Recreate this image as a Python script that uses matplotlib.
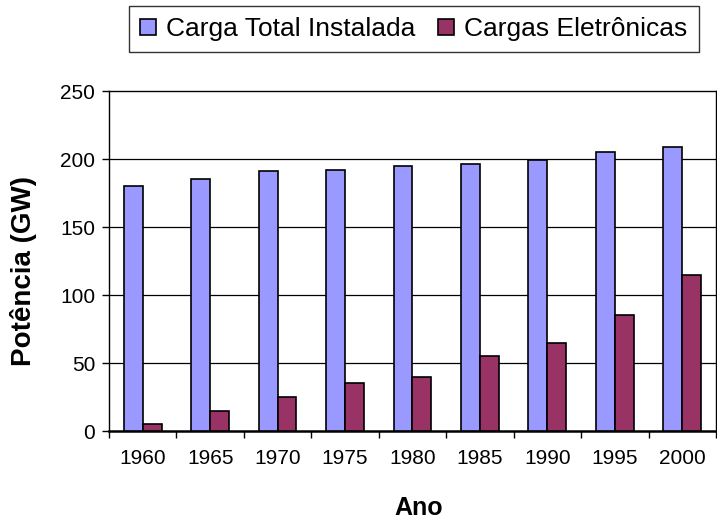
import matplotlib.pyplot as plt
import numpy as np

plt.rcParams['font.family'] = ['Liberation Sans', 'DejaVu Sans']

anos = ['1960', '1965', '1970', '1975', '1980', '1985', '1990', '1995', '2000']
carga_total = [180, 185, 191, 192, 195, 196, 199, 205, 209]
cargas_eletronicas = [5, 15, 25, 35, 40, 55, 65, 85, 115]

fig = plt.figure(figsize=(7.17, 5.22), dpi=100)
ax = fig.add_axes([0.152, 0.1743, 0.8466, 0.6513])

x = np.arange(len(anos))
w = 0.28
ax.bar(x - w/2, carga_total, w, color='#9999FF', edgecolor='black', linewidth=1.2,
       label='Carga Total Instalada', zorder=3)
ax.bar(x + w/2, cargas_eletronicas, w, color='#993366', edgecolor='black', linewidth=1.2,
       label='Cargas Eletrônicas', zorder=3)

ax.set_xlim(-0.5, len(anos) - 0.5)
ax.set_ylim(0, 250)
ax.set_yticks(range(0, 251, 50))
for v in range(50, 250, 50):
    ax.axhline(v, color='black', linewidth=0.9, zorder=1)

# ticks nas divisas entre grupos, rótulos no centro
ax.set_xticks(np.arange(-0.5, len(anos), 1.0))
ax.set_xticklabels([])
ax.set_xticks(x, minor=True)
ax.set_xticklabels(anos, minor=True)
ax.tick_params(axis='x', which='major', length=5, width=1, direction='out')
ax.tick_params(axis='x', which='minor', length=0, pad=13, labelsize=15)
ax.tick_params(axis='y', length=5, width=1, direction='out', labelsize=15, pad=5)

for s in ax.spines.values():
    s.set_linewidth(1)
ax.spines['bottom'].set_linewidth(1.8)

fig.text(24/717, 1 - 271/522, 'Potência (GW)', rotation=90, ha='center', va='center',
         fontsize=20, fontweight='bold')
fig.text(419/717, 1 - 508/522, 'Ano', ha='center', va='center',
         fontsize=18, fontweight='bold')

leg = fig.legend(loc='upper center', bbox_to_anchor=(0.577, 0.988), ncol=2,
                 fontsize=19, frameon=True, fancybox=False, edgecolor='black',
                 handlelength=0.6, handleheight=0.6, handletextpad=0.4,
                 columnspacing=0.85, borderpad=0.42, borderaxespad=0)
leg.get_frame().set_linewidth(1)

fig.savefig('out.png', dpi=100)
